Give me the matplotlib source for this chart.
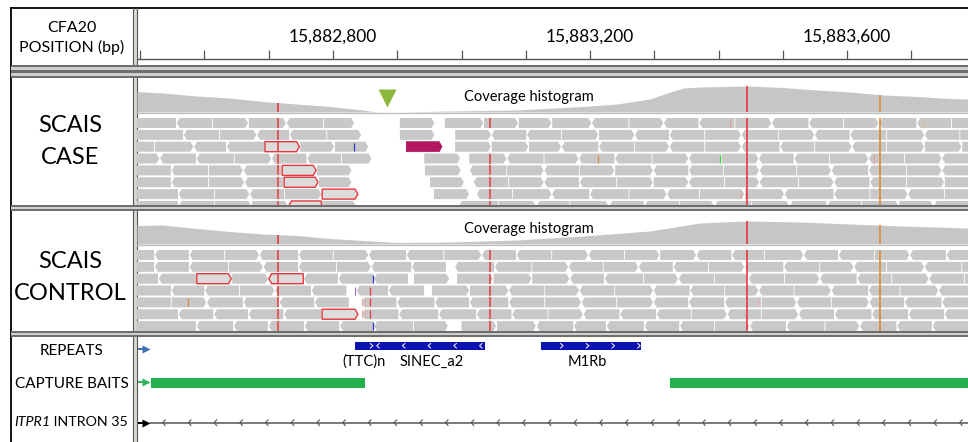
import numpy as np
import matplotlib
matplotlib.use("Agg")
import matplotlib.pyplot as plt
from matplotlib.patches import Polygon, Rectangle
from matplotlib.collections import LineCollection

plt.rcParams["font.family"] = ["Lato", "DejaVu Sans"]

W, H = 968, 442
DATA_X0 = 137            # left edge of the data area (px)
BASE = 15882000          # all positions below are bp offsets from this
VIEW = (495, 1788)

RULER_TICKS = [500, 600, 700, 800, 900, 1000, 1100, 1200, 1300, 1400, 1500, 1600, 1700]
RULER_LABELS = [800, 1200, 1600]

# coverage histograms (position, depth)
CASE_COV_POS = [495, 535, 588, 640, 691, 744, 795, 847, 862, 873, 904, 982, 1086, 1189,
                1242, 1293, 1320, 1345, 1371, 1444, 1500, 1553, 1605, 1656, 1709, 1760, 1788]
CASE_COV_DEPTH = [41, 38, 32, 28, 21, 16, 11, 4, 1, 0, 0, 2, 4, 11,
                  16, 26, 38, 48, 50, 52, 49, 44, 40, 34, 31, 27, 26]
CTRL_COV_POS = [495, 535, 588, 640, 691, 744, 795, 847, 900, 982, 1086, 1189,
                1293, 1371, 1444, 1527, 1605, 1683, 1788]
CTRL_COV_DEPTH = [37, 38, 31, 25, 20, 17, 11, 7, 3, 4, 8, 16,
                  26, 42, 46, 44, 40, 36, 32]

# reads: one list of blocks per row, each block = consecutive read boundaries
CASE_ROWS = [
    [[460, 557, 613, 669, 728, 786, 834], [904, 959],
     [974, 1035, 1089, 1141, 1203, 1261, 1315, 1370, 1426, 1483, 1541, 1595, 1650, 1709, 1763, 1820]],
    [[470, 568, 624, 682, 733, 791, 845], [904, 959],
     [990, 1047, 1102, 1156, 1214, 1270, 1324, 1379, 1436, 1494, 1550, 1605, 1662, 1721, 1776, 1830]],
    [[470, 523, 584, 635, 694, 749, 803, 856], [914, 971],
     [990, 1047, 1105, 1156, 1214, 1270, 1324, 1379, 1436, 1496, 1550, 1608, 1662, 1721, 1779, 1835]],
    [[480, 531, 588, 647, 705, 760, 814, 861], [942, 999],
     [1012, 1071, 1129, 1183, 1239, 1297, 1354, 1405, 1463, 1518, 1573, 1634, 1690, 1748, 1800]],
    [[470, 549, 607, 661, 721, 775, 830], [943, 1000],
     [1013, 1071, 1129, 1184, 1239, 1299, 1354, 1408, 1464, 1522, 1576, 1634, 1693, 1748, 1800]],
    [[470, 549, 607, 663, 724, 778, 830], [951, 1005],
     [1019, 1074, 1129, 1184, 1242, 1299, 1354, 1410, 1464, 1525, 1580, 1636, 1693, 1752, 1805]],
    [[470, 560, 616, 671, 725, 783, 840], [957, 1013],
     [1024, 1080, 1141, 1200, 1261, 1320, 1371, 1441, 1503, 1580, 1636, 1695, 1752, 1805]],
    [[470, 560, 616, 674, 731, 783, 837],
     [996, 1058, 1117, 1169, 1230, 1285, 1340, 1394, 1452, 1511, 1569, 1623, 1681, 1735, 1790]],
]
CASE_STRANDS = [
    "<<>><> > >>>><><<><<><<>",
    "<<><<> > ><<>><<><><<><>",
    "<><<>>> > >>><<><><<><>>>",
    "><<><<> > ><><<><><<><><",
    "<<><>> > <><>><<><><<><",
    "<<><>> > <><<>><><><<>>",
    "<<><>> > <><<><>><<><>",
    "<<>><> <><><<><><<>><",
]
CASE_OUTLINED = [(2, 694), (4, 721), (5, 724), (6, 783), (7, 731)]
CASE_MAGENTA = [(2, 914)]

CTRL_ROWS = [
    [[470, 523, 577, 632, 686, 747, 801, 856, 915, 973, 1032, 1086, 1141, 1198, 1254, 1309,
      1366, 1421, 1472, 1533, 1587, 1643, 1698, 1755, 1810]],
    [[470, 523, 577, 638, 692, 747, 806, 860, 923, 977],
     [990, 1052, 1110, 1167, 1221, 1276, 1330, 1385, 1441, 1502, 1558, 1611, 1662, 1721, 1779, 1835]],
    [[470, 529, 588, 643, 700, 755, 809, 864, 918], [926, 982],
     [993, 1050, 1110, 1169, 1223, 1284, 1338, 1394, 1447, 1503, 1558, 1616, 1670, 1728, 1783, 1840]],
    [[470, 549, 601, 655, 710, 767, 822], [837, 887, 943],
     [954, 1013, 1074, 1130, 1184, 1239, 1299, 1356, 1410, 1463, 1518, 1576, 1634, 1683, 1743, 1795]],
    [[470, 549, 604, 661, 717, 772, 826],
     [845, 900, 959, 1013, 1074, 1130, 1187, 1242, 1299, 1354, 1410, 1467, 1522, 1576, 1635, 1690, 1748, 1800]],
    [[470, 560, 615, 669, 724, 783, 840],
     [845, 903, 965, 1024, 1079, 1135, 1190, 1247, 1304, 1358, 1414, 1467, 1525, 1581, 1639, 1696, 1752, 1805]],
    [[470, 588, 646, 700, 756, 811, 864, 926, 980],
     [1000, 1055, 1117, 1175, 1226, 1285, 1340, 1394, 1449, 1506, 1566, 1620, 1678, 1733, 1790]],
]
CTRL_STRANDS = [
    "<<<><<><<><<><>><<><<><<",
    "<<<><<><< <<><><<><<><><>",
    "<<>><<<< > >>><<><><><<><>",
    "<<<><< << >><><><<><><<><",
    "<><<<< <<<<<><><<<><><<<",
    "<<<<<> <<<<<><<<><><<<<<",
    "<<<<<<<> >><<<<<><<><<<",
]
CTRL_OUTLINED = [(2, 588), (2, 700), (5, 783)]

# variant columns (position, colour, rows hit, shown in coverage, solid)
CASE_SNP_POS = [714, 1044, 1444, 1651]
CASE_SNP_COLOR = ["#e8383d", "#e8383d", "#e8383d", "#d98a3c"]
CASE_SNP_ROWS = [[0, 1, 2, 3, 4, 5, 6, 7], [0, 3, 4, 5, 6, 7], [0, 1, 2, 3, 4, 5, 6, 7], [1, 2, 3, 4, 5, 6, 7]]
CASE_SNP_COV = [True, False, True, True]
CASE_SNP_SOLID = [False, False, True, True]

CTRL_SNP_POS = [714, 1044, 1444, 1651]
CTRL_SNP_COLOR = ["#e8383d", "#e8383d", "#e8383d", "#d98a3c"]
CTRL_SNP_ROWS = [[0, 1, 2, 3, 4, 5, 6], [0, 1, 2, 3, 4, 5, 6], [0, 1, 2, 3, 4, 5, 6], [0, 1, 2, 3, 4, 5, 6]]
CTRL_SNP_COV = [True, False, True, True]
CTRL_SNP_SOLID = [False, False, True, True]

# single-read mismatches (position, row, colour)
CASE_MM = [(833, 2, "#2a35d0"), (1402, 3, "#3ad23a"), (1213, 3, "#d98a3c"),
           (1418, 0, "#e3a0a0"), (1435, 6, "#e3a0a0"), (1719, 0, "#e3b48c"), (1641, 3, "#e3a0a0")]
CTRL_MM = [(862, 2, "#2a35d0"), (862, 6, "#2a35d0"), (857, 3, "#e8383d"), (857, 4, "#e8383d"),
           (857, 5, "#e8383d"), (574, 4, "#d98a3c"), (834, 3, "#9a7ac8"), (845, 4, "#e6b0b0"),
           (850, 4, "#e6b0b0"), (845, 5, "#e6b0b0"), (850, 5, "#e6b0b0"), (1463, 4, "#e6b0b0")]

DELETION_MARK = 884

# annotation tracks
REPEAT_NAMES = ["SINEC_a2", "(TTC)n", "M1Rb"]
REPEAT_START = [834, 860, 1124]
REPEAT_END = [1036, 866, 1279]
REPEAT_STRAND = ["<", ">", ">"]
REPEAT_LABEL_X = [953, 848, 1195]
BAIT_START = [517, 1324]
BAIT_END = [850, 1850]
INTRON_START = 515

READ_GRAY = "#c8c8c8"
RED = "#e8383d"
ROW_PITCH = 11.85
READ_H = 10
TIP = 4.5
GAP = 1.3
CHEVRON = 40


def px_axes(fig, x0, y0, x1, y1):
    return fig.add_axes([x0 / W, 1 - y1 / H, (x1 - x0) / W, (y1 - y0) / H])


def data_axes(fig, y0, y1):
    ax = px_axes(fig, DATA_X0, y0, W, y1)
    ax.set_xlim(*VIEW)
    ax.set_ylim(y1 - y0, 0)
    ax.axis("off")
    return ax


def read_shape(s, e, y, strand):
    if strand == ">":
        return [(s, y), (e - TIP, y), (e, y + READ_H / 2), (e - TIP, y + READ_H), (s, y + READ_H)]
    return [(s + TIP, y), (e, y), (e, y + READ_H), (s + TIP, y + READ_H), (s, y + READ_H / 2)]


def draw_reads(ax, rows, strands, row0, outlined, magenta):
    for r, blocks in enumerate(rows):
        y = row0 + r * ROW_PITCH
        st = strands[r].replace(" ", "")
        k = 0
        for block in blocks:
            for s, e in zip(block[:-1], block[1:]):
                d = st[k] if k < len(st) else ">"
                k += 1
                if (r, s) in magenta:
                    fc, ec, lw = "#b3175f", "#b3175f", 0.5
                elif (r, s) in outlined:
                    fc, ec, lw = "#dcdcdc", RED, 1.0
                else:
                    fc, ec, lw = READ_GRAY, "none", 0
                ax.add_patch(Polygon(read_shape(s, e - GAP, y, d), closed=True,
                                     fc=fc, ec=ec, lw=lw))


def draw_snps(ax, cov_ax, row0, nrows, pos, colors, rows, in_cov, solid, cov_pos, cov_depth):
    for p, c, rr, cv, sd in zip(pos, colors, rows, in_cov, solid):
        if sd:
            ax.vlines(p, row0, row0 + nrows * ROW_PITCH, color=c, lw=1.2, zorder=5)
        else:
            for r in rr:
                y = row0 + r * ROW_PITCH
                ax.vlines(p, y, y + READ_H, color=c, lw=1.1, zorder=5)
        if cv:
            cov_ax.vlines(p, 0, np.interp(p, cov_pos, cov_depth), color=c, lw=1.2, zorder=5)


def draw_mm(ax, row0, marks):
    for p, r, c in marks:
        y = row0 + r * ROW_PITCH
        ax.vlines(p, y + 1, y + READ_H - 1, color=c, lw=0.9, zorder=5)


def chevrons(ax, xs, y, half_h, color, direction, lw=0.8):
    dx = 4.5 if direction == "<" else -4.5
    segs = [[(x + dx, y - half_h), (x, y), (x + dx, y + half_h)] for x in xs]
    ax.add_collection(LineCollection(segs, colors=color, linewidths=lw))


fig = plt.figure(figsize=(W / 100, H / 100), dpi=100)

# background: frame, label column, separator bands
bg = fig.add_axes([0, 0, 1, 1])
bg.set_xlim(0, W)
bg.set_ylim(H, 0)
bg.axis("off")

bg.plot([11, W], [8, 8], color="black", lw=1.3)
bg.plot([11, 11], [8, H], color="black", lw=1.3)
bg.add_patch(Rectangle((133, 8), 4, H - 8, fc="#d9d9cf", ec="none"))
bg.plot([133, 133], [8, H], color="#555555", lw=0.8)
bg.plot([137, 137], [8, H], color="#555555", lw=0.8)

for y0, y1 in [(65, 78), (205, 211), (331, 337)]:
    bg.add_patch(Rectangle((11, y0), W - 11, y1 - y0, fc="#cfcfcf", ec="none", zorder=3))
    bg.add_patch(Rectangle((11, y0), W - 11, 1.6, fc="#6e6e6e", ec="none", zorder=3))
    bg.add_patch(Rectangle((11, y1 - 1.6), W - 11, 1.6, fc="#6e6e6e", ec="none", zorder=3))
    if y1 - y0 > 8:
        bg.add_patch(Rectangle((11, y0 + 4.5), W - 11, 3.2, fc="#6e6e6e", ec="none", zorder=3))

bg.text(72, 28, "CFA20", ha="center", va="center", fontsize=11.5)
bg.text(72, 47, "POSITION (bp)", ha="center", va="center", fontsize=11.5)
bg.text(70, 126, "SCAIS", ha="center", va="center", fontsize=17)
bg.text(70, 158, "CASE", ha="center", va="center", fontsize=17)
bg.text(70, 261, "SCAIS", ha="center", va="center", fontsize=17)
bg.text(70, 294, "CONTROL", ha="center", va="center", fontsize=17)
bg.text(72, 351, "REPEATS", ha="center", va="center", fontsize=11)
bg.text(72, 384, "CAPTURE BAITS", ha="center", va="center", fontsize=11)
t2 = bg.text(128, 422, " INTRON 35", ha="right", va="center", fontsize=10.3)
fig.canvas.draw()
bb = t2.get_window_extent(renderer=fig.canvas.get_renderer())
bg.text(bb.x0, 422, "ITPR1", ha="right", va="center", fontsize=10.3, style="italic")

# track start arrows
for y, c in [(349, "#3d6db3"), (382, "#2fb35a"), (422.5, "black")]:
    bg.plot([138, 145], [y, y], color=c, lw=1.4, solid_capstyle="butt")
    bg.plot(146, y, marker=">", ms=5.5, color=c, mec="none")

# ruler
ax_r = data_axes(fig, 8, 65)
ax_r.plot(VIEW, [51, 51], color="#555555", lw=1)
ax_r.vlines(RULER_TICKS, 42, 51, color="#555555", lw=0.9)
for v in RULER_LABELS:
    ax_r.text(v, 28.5, f"{BASE + v:,}", ha="center", va="center", fontsize=12.5)


def panel(y0, y1, cov0, cov1, row0, rows, strands, outlined, magenta, cov_pos, cov_depth,
          snp_pos, snp_col, snp_rows, snp_cov, snp_solid, mm):
    ax = data_axes(fig, y0, y1)
    cax = data_axes(fig, cov0, cov1)
    cax.set_ylim(0, 2 * (cov1 - cov0))
    cax.fill_between(cov_pos, 0, cov_depth, color="#c6c6c6", lw=0)
    ax.plot(VIEW, [cov1 - y0 + 0.5] * 2, color="#bdbdbd", lw=0.9)
    ax.text(1105, cov1 - y0 - 15, "Coverage histogram", ha="center", va="center", fontsize=10.5)
    draw_reads(ax, rows, strands, row0 - y0, outlined, magenta)
    draw_snps(ax, cax, row0 - y0, len(rows), snp_pos, snp_col, snp_rows, snp_cov, snp_solid,
              cov_pos, cov_depth)
    draw_mm(ax, row0 - y0, mm)
    return ax


ax_case = panel(78, 205, 80, 112, 118, CASE_ROWS, CASE_STRANDS, CASE_OUTLINED, CASE_MAGENTA,
                CASE_COV_POS, CASE_COV_DEPTH, CASE_SNP_POS, CASE_SNP_COLOR, CASE_SNP_ROWS,
                CASE_SNP_COV, CASE_SNP_SOLID, CASE_MM)
ax_case.plot(DELETION_MARK, 20, marker="v", ms=13, color="#8db83e", mec="none")

panel(211, 331, 213, 244, 250, CTRL_ROWS, CTRL_STRANDS, CTRL_OUTLINED, [],
      CTRL_COV_POS, CTRL_COV_DEPTH, CTRL_SNP_POS, CTRL_SNP_COLOR, CTRL_SNP_ROWS,
      CTRL_SNP_COV, CTRL_SNP_SOLID, CTRL_MM)

# annotation tracks
ax_a = data_axes(fig, 337, H)
for name, s, e, d, lx in zip(REPEAT_NAMES, REPEAT_START, REPEAT_END, REPEAT_STRAND, REPEAT_LABEL_X):
    ax_a.add_patch(Rectangle((s, 5), e - s, 7.5, fc="#0c12b0", ec="none"))
    xs = np.arange(s + 34, e, CHEVRON) if e - s > CHEVRON else [s + 2]
    chevrons(ax_a, xs, 8.75, 2.6, "white", d, lw=0.7)
    ax_a.text(lx, 25, name, ha="center", va="center", fontsize=10.5)

for s, e in zip(BAIT_START, BAIT_END):
    ax_a.add_patch(Rectangle((s, 41), e - s, 10, fc="#22b14c", ec="none"))

ax_a.plot([INTRON_START, VIEW[1]], [85.7, 85.7], color="#555555", lw=1.1)
chevrons(ax_a, np.arange(INTRON_START + 20, VIEW[1], CHEVRON), 85.7, 3.2, "#555555", "<", lw=0.8)

fig.savefig("out.png", dpi=100)
